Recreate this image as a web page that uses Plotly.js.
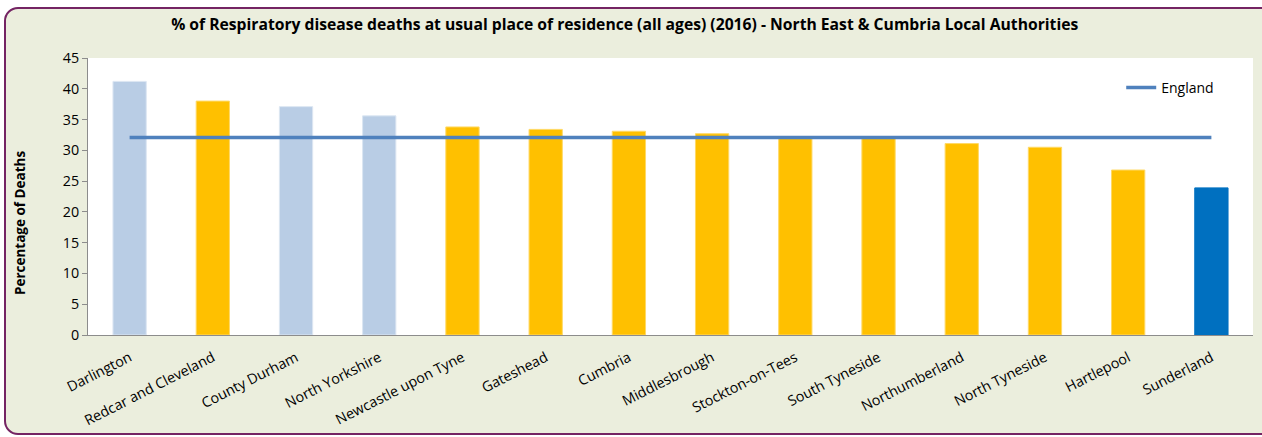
<!DOCTYPE html>
<html>
<head>
<meta charset="utf-8">
<script src="https://cdn.plot.ly/plotly-3.0.1.min.js"></script>
<style>
html,body{margin:0;padding:0;background:#ffffff;width:1262px;height:437px;overflow:hidden;}
#frame{position:absolute;left:4px;top:7px;width:1280px;height:428px;border:2px solid #742463;border-radius:14px;background:#EBEEDD;box-sizing:border-box;}
#chart{position:absolute;left:0;top:0;width:1262px;height:437px;}
</style>
</head>
<body>
<div id="frame"></div>
<div id="chart"></div>
<script>
var categories = ["Darlington","Redcar and Cleveland","County Durham","North Yorkshire","Newcastle upon Tyne","Gateshead","Cumbria","Middlesbrough","Stockton-on-Tees","South Tyneside","Northumberland","North Tyneside","Hartlepool","Sunderland"];
var values = [41.2, 38.0, 37.1, 35.6, 33.8, 33.4, 33.1, 32.7, 32.2, 32.1, 31.1, 30.5, 26.8, 23.9];
var groups = ["other","ne","other","other","ne","ne","ne","ne","ne","ne","ne","ne","ne","focus"];
var englandValue = 32.1;
var englandValues = categories.map(function(){ return englandValue; });
var yTicks = [0,5,10,15,20,25,30,35,40,45];

var colourMap = {other:"#B9CDE5", ne:"#FFC000", focus:"#0070C0"};
var barColours = groups.map(function(g){ return colourMap[g]; });
var lineColours = groups.map(function(g){ return g==="other" ? "#DCE6F2" : (g==="ne" ? "#FFD966" : "#0070C0"); });

var traces = [
  {type:"bar", x:categories, y:values, marker:{color:barColours, line:{color:lineColours, width:1}}, width:0.4, showlegend:false, hoverinfo:"x+y"},
  {type:"scatter", mode:"lines", x:categories, y:englandValues, name:"England", line:{color:"#4F81BD", width:3.5}}
];

var font = "'Open Sans', sans-serif";
var layout = {
  width:1262, height:437,
  margin:{l:88, r:9, t:58, b:102},
  paper_bgcolor:"rgba(0,0,0,0)",
  plot_bgcolor:"#FFFFFF",
  font:{family:font, size:14, color:"#000000"},
  title:{text:"<b>% of Respiratory disease deaths at usual place of residence (all ages) (2016) - North East &amp; Cumbria Local Authorities</b>", x:0.495, xanchor:"center", y:0.945, yanchor:"middle", font:{family:font, size:15.7, color:"#000000"}},
  xaxis:{type:"category", showline:true, linecolor:"#8C8C8C", linewidth:1, ticks:"", tickangle:-27, ticklabelstandoff:8, tickfont:{family:font, size:14.3}, showgrid:false, zeroline:false, automargin:false},
  yaxis:{range:[0,45], tickvals:yTicks, showline:true, linecolor:"#8C8C8C", linewidth:1, ticks:"outside", ticklen:5, tickcolor:"#8C8C8C", showgrid:false, zeroline:false, tickfont:{family:font, size:14.3}, automargin:false},
  annotations:[{text:"<b>Percentage of Deaths</b>", xref:"paper", yref:"paper", x:-0.0584, y:0.404, xanchor:"center", yanchor:"middle", textangle:-90, showarrow:false, font:{family:font, size:13.5, color:"#000000"}}],
  legend:{x:0.971, xanchor:"right", y:0.95, yanchor:"top", bgcolor:"rgba(0,0,0,0)", font:{family:font, size:14}, itemwidth:30},
  bargap:0.6
};

Plotly.newPlot("chart", traces, layout, {displayModeBar:false, staticPlot:true});
</script>
</body>
</html>
